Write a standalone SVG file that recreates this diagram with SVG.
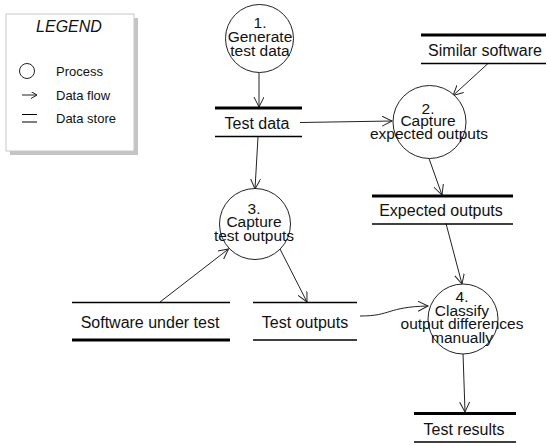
<svg xmlns="http://www.w3.org/2000/svg" width="547" height="446" viewBox="0 0 547 446">
  <style>
    .bg { fill: #ffffff; }
    .proc { fill: #ffffff; stroke: #222222; stroke-width: 1; }
    .flow { fill: none; stroke: #222222; stroke-width: 1; marker-end: url(#arrow); }
    .thick { stroke: #000000; stroke-width: 3; }
    .thin { stroke: #000000; stroke-width: 1.3; }
    .label { font-family: "Liberation Sans", Arial, sans-serif; font-size: 16px; fill: #111111; text-anchor: middle; }
    .ptext { font-family: "Liberation Sans", Arial, sans-serif; font-size: 15.5px; fill: #111111; text-anchor: middle; }
    .legend { font-family: "Liberation Sans", Arial, sans-serif; font-size: 13px; fill: #111111; }
  </style>
  <defs>
    <marker id="arrow" markerUnits="userSpaceOnUse" markerWidth="12" markerHeight="12" refX="10" refY="5" orient="auto">
      <path d="M0,0 L10,5 L0,10" fill="none" stroke="#222222" stroke-width="1"/>
    </marker>
    <marker id="arrowSmall" markerUnits="userSpaceOnUse" markerWidth="8" markerHeight="8" refX="6" refY="3.5" orient="auto">
      <path d="M0,0 L6,3.5 L0,7" fill="none" stroke="#222222" stroke-width="1"/>
    </marker>
  </defs>

  <rect class="bg" x="0" y="0" width="547" height="446"/>

  <!-- Legend panel with drop shadow -->
  <g id="legend">
    <rect x="10" y="18" width="128" height="137" fill="#c4c4c4"/>
    <rect x="6" y="14" width="128" height="137" fill="#ffffff" stroke="#c8c8c8" stroke-width="1"/>
    <text x="69" y="32" font-family="'Liberation Sans', Arial, sans-serif" font-size="16" font-style="italic" fill="#111111" text-anchor="middle">LEGEND</text>
    <circle cx="27" cy="71" r="7.5" fill="none" stroke="#222222" stroke-width="1"/>
    <text class="legend" x="56" y="75.5">Process</text>
    <line x1="22" y1="95" x2="37" y2="95" stroke="#222222" stroke-width="1" marker-end="url(#arrowSmall)"/>
    <text class="legend" x="56" y="99.5">Data flow</text>
    <line x1="22" y1="114.5" x2="37" y2="114.5" stroke="#000000" stroke-width="1"/>
    <line x1="22" y1="122" x2="37" y2="122" stroke="#000000" stroke-width="1"/>
    <text class="legend" x="56" y="122.5">Data store</text>
  </g>

  <!-- Data flows -->
  <g id="connectors">
    <line class="flow" x1="259" y1="72" x2="259" y2="107"/>
    <line class="flow" x1="300" y1="122.5" x2="392" y2="121"/>
    <line class="flow" x1="488" y1="63.5" x2="453" y2="95.5"/>
    <line class="flow" x1="429" y1="158.5" x2="442" y2="195"/>
    <line class="flow" x1="258" y1="137" x2="255" y2="189"/>
    <line class="flow" x1="160" y1="302" x2="228.5" y2="249"/>
    <line class="flow" x1="280" y1="249" x2="307" y2="302"/>
    <line class="flow" x1="446" y1="223.5" x2="462" y2="284"/>
    <path class="flow" d="M360,316 C392,316 386,307 428,306"/>
    <line class="flow" x1="463" y1="353" x2="465" y2="412"/>
  </g>

  <!-- Processes -->
  <g id="p1">
    <circle class="proc" cx="259.5" cy="38.5" r="34"/>
    <text class="ptext" x="260" y="27.5">1.</text>
    <text class="ptext" x="260" y="41.5">Generate</text>
    <text class="ptext" x="260" y="55.5">test data</text>
  </g>
  <g id="p2">
    <circle class="proc" cx="429.5" cy="122" r="36.5"/>
    <text class="ptext" x="428" y="113.5">2.</text>
    <text class="ptext" x="428" y="126">Capture</text>
    <text class="ptext" x="429" y="138.5">expected outputs</text>
  </g>
  <g id="p3">
    <circle class="proc" cx="255" cy="224" r="35.5"/>
    <text class="ptext" x="254" y="213.5">3.</text>
    <text class="ptext" x="254" y="227">Capture</text>
    <text class="ptext" x="254" y="241">test outputs</text>
  </g>
  <g id="p4">
    <circle class="proc" cx="463" cy="319" r="35"/>
    <text class="ptext" x="462" y="301.5">4.</text>
    <text class="ptext" x="462" y="315.5">Classify</text>
    <text class="ptext" x="462" y="329">output differences</text>
    <text class="ptext" x="462" y="342.5">manually</text>
  </g>

  <!-- Data stores -->
  <g id="s-test-data">
    <line class="thick" x1="215" y1="108" x2="302" y2="108"/>
    <line class="thin" x1="215" y1="136.5" x2="302" y2="136.5"/>
    <text class="label" x="257" y="128.5">Test data</text>
  </g>
  <g id="s-similar">
    <line class="thick" x1="421" y1="35" x2="546" y2="35"/>
    <line class="thin" x1="421" y1="63.5" x2="546" y2="63.5"/>
    <text class="label" x="485" y="55.5">Similar software</text>
  </g>
  <g id="s-expected">
    <line class="thick" x1="372" y1="196" x2="513" y2="196"/>
    <line class="thin" x1="372" y1="224" x2="513" y2="224"/>
    <text class="label" x="441" y="216">Expected outputs</text>
  </g>
  <g id="s-software">
    <line class="thin" x1="72" y1="302.5" x2="230" y2="302.5"/>
    <line class="thick" x1="72" y1="340" x2="230" y2="340"/>
    <text class="label" x="150" y="327.5">Software under test</text>
  </g>
  <g id="s-test-outputs">
    <line class="thin" x1="253" y1="302.5" x2="357" y2="302.5"/>
    <line class="thin" x1="253" y1="340" x2="357" y2="340"/>
    <text class="label" x="305" y="327.5">Test outputs</text>
  </g>
  <g id="s-results">
    <line class="thick" x1="414" y1="413.5" x2="516" y2="413.5"/>
    <line class="thin" x1="414" y1="442" x2="516" y2="442"/>
    <text class="label" x="464" y="434.5">Test results</text>
  </g>
</svg>
